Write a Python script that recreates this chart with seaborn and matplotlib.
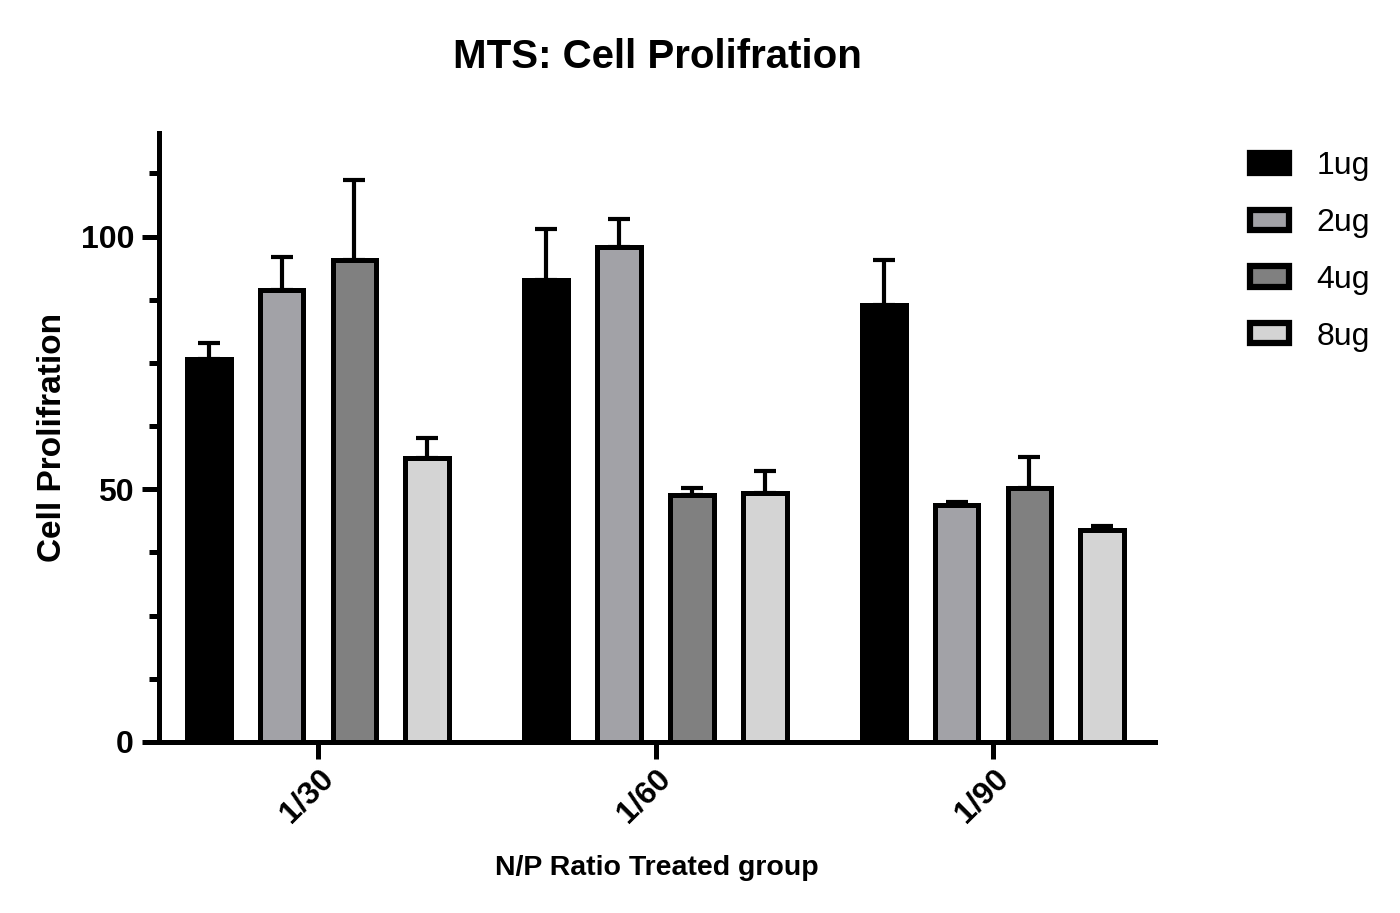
import matplotlib
matplotlib.use("Agg")
import matplotlib.pyplot as plt
import seaborn as sns
import pandas as pd
import numpy as np
from matplotlib.ticker import MultipleLocator

groups = ["1/30", "1/60", "1/90"]
doses = ["1ug", "2ug", "4ug", "8ug"]
means = {
    "1ug": [75.8, 91.5, 86.5],
    "2ug": [89.5, 98.0, 46.8],
    "4ug": [95.4, 48.8, 50.2],
    "8ug": [56.2, 49.2, 41.9],
}
errs = {
    "1ug": [3.2, 10.1, 8.9],
    "2ug": [6.5, 5.4, 0.6],
    "4ug": [15.9, 1.4, 6.1],
    "8ug": [3.9, 4.4, 0.8],
}
colors = ["#000000", "#a2a2a7", "#808080", "#d4d4d4"]

rows = []
for d in doses:
    for g, m in zip(groups, means[d]):
        rows.append({"group": g, "dose": d, "value": m})
df = pd.DataFrame(rows)

sns.set_style("ticks")
plt.rcParams["font.family"] = ["Liberation Sans", "DejaVu Sans"]
for k in ["text.color", "axes.labelcolor", "xtick.color", "ytick.color", "axes.edgecolor"]:
    plt.rcParams[k] = "black"

fig = plt.figure(figsize=(14, 9.13), dpi=100)
ax = fig.add_axes([0.1136, 0.1873, 0.825 - 0.1136, 0.8543 - 0.1873])

sns.barplot(data=df, x="group", y="value", hue="dose", order=groups,
            hue_order=doses, palette=colors, width=0.864, gap=0.4,
            errorbar=None, edgecolor="black", linewidth=3.6, ax=ax,
            saturation=1)

for i, d in enumerate(doses):
    cont = ax.containers[i]
    xs = [b.get_x() + b.get_width() / 2 for b in cont]
    ys = means[d]
    ax.errorbar(xs, ys, yerr=[np.zeros(len(ys)), errs[d]], fmt="none",
                ecolor="black", elinewidth=3, capsize=8, capthick=3, zorder=1)

ax.set_ylim(0, 120.5)
ax.set_xlim(-0.471, 2.48)
ax.yaxis.set_major_locator(MultipleLocator(50))
ax.yaxis.set_minor_locator(MultipleLocator(12.5))
sns.despine(ax=ax)
for s in ["left", "bottom"]:
    ax.spines[s].set_linewidth(3.6)
    ax.spines[s].set_color("black")
ax.tick_params(axis="both", which="major", length=12, width=3.6, labelsize=23,
               color="black")
ax.tick_params(axis="y", which="minor", length=7, width=3.6, color="black")
ax.tick_params(axis="y", pad=6)
for lbl in ax.get_yticklabels():
    lbl.set_fontweight("bold")
ax.set_xticks(range(len(groups)))
ax.set_xticklabels(groups, rotation=45, ha="right", rotation_mode="anchor",
                   fontweight="bold", fontsize=23)
ax.set_xlabel("N/P Ratio Treated group", fontsize=20.5, fontweight="bold", labelpad=19)
ax.set_ylabel("Cell Prolifration", fontsize=24, fontweight="bold", labelpad=9)
ax.set_title("MTS: Cell Prolifration", fontsize=29, fontweight="bold", pad=47)

leg = ax.legend(loc="upper left", bbox_to_anchor=(0.872, 0.866),
                bbox_transform=fig.transFigure, frameon=False, fontsize=23,
                handlelength=1.25, handleheight=0.6, labelspacing=0.84,
                handletextpad=0.85)
for h in leg.legend_handles:
    h.set_linewidth(4.5)
    h.set_edgecolor("black")

fig.savefig("out.png", dpi=100)
